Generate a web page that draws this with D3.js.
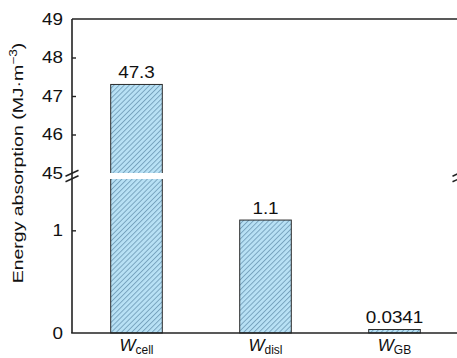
<!DOCTYPE html>
<html>
<head>
<meta charset="utf-8">
<script src="https://cdn.jsdelivr.net/npm/d3@7"></script>
<style>
  html, body { margin: 0; padding: 0; background: #fff; }
  svg { display: block; font-family: "Liberation Sans", Arial, sans-serif; }
</style>
</head>
<body>
<svg id="chart" width="457" height="358"></svg>
<script>
// Energy absorbed by each mechanism (MJ·m^-3)
const categories = ["cell", "disl", "GB"];
const values = [47.3, 1.1, 0.0341];
const valueLabels = ["47.3", "1.1", "0.0341"];
const upperTicks = [45, 46, 47, 48, 49];
const lowerTicks = [0, 1];
const upperDomain = [45, 49];
const lowerDomain = [0, 1.5];

const svg = d3.select("#chart");
const plotLeft = 72, plotRight = 459, plotTop = 19, plotBottom = 333;
const upperBottom = 173, lowerTop = 179;
const breakY = (upperBottom + lowerTop) / 2;
const stretch = 1.18; // wide lettering

const x = d3.scaleBand().domain(categories).range([plotLeft, plotRight])
  .paddingInner(0.6).paddingOuter(0.3);
const yTop = d3.scaleLinear().domain(upperDomain).range([upperBottom, plotTop]);
const yBot = d3.scaleLinear().domain(lowerDomain).range([plotBottom, lowerTop]);
const yOf = v => v > lowerDomain[1] ? yTop(v) : yBot(v);

// hatch fill
const defs = svg.append("defs");
const pat = defs.append("pattern").attr("id", "hatch")
  .attr("patternUnits", "userSpaceOnUse").attr("width", 3.6).attr("height", 3.6)
  .attr("patternTransform", "rotate(45)");
pat.append("rect").attr("width", 3.6).attr("height", 3.6).attr("fill", "#b8e1f5");
pat.append("line").attr("x1", 0.5).attr("y1", 0).attr("x2", 0.5).attr("y2", 3.6)
  .attr("stroke", "#6a97b5").attr("stroke-width", 0.8);

// bars
svg.append("g").selectAll("rect").data(values).join("rect")
  .attr("x", (d, i) => x(categories[i]))
  .attr("width", x.bandwidth())
  .attr("y", d => yOf(d))
  .attr("height", d => yBot(0) - yOf(d))
  .attr("fill", "url(#hatch)")
  .attr("stroke", "#2b2b2b").attr("stroke-width", 1);

// white gap across the axis break
svg.append("rect").attr("x", plotLeft + 1).attr("width", plotRight - plotLeft - 2)
  .attr("y", upperBottom).attr("height", lowerTop - upperBottom).attr("fill", "#fff");

// value labels
svg.append("g").selectAll("text").data(values).join("text")
  .attr("transform", (d, i) => `translate(${x(categories[i]) + x.bandwidth() / 2},${yOf(d) - 6.5}) scale(${stretch},1)`)
  .attr("text-anchor", "middle").attr("font-size", 16).attr("fill", "#111")
  .text((d, i) => valueLabels[i]);

// frame lines
const frame = svg.append("g").attr("stroke", "#222").attr("stroke-width", 1.6).attr("fill", "none");
frame.append("line").attr("x1", plotLeft).attr("x2", plotLeft).attr("y1", plotTop).attr("y2", plotBottom);
frame.append("line").attr("x1", plotLeft).attr("x2", plotRight).attr("y1", plotTop).attr("y2", plotTop);
frame.append("line").attr("x1", plotLeft - 0.8).attr("x2", plotRight).attr("y1", plotBottom).attr("y2", plotBottom);

// axes (ticks + labels)
function styleAxis(g) {
  g.select(".domain").remove();
  g.selectAll(".tick line").attr("stroke", "#222").attr("stroke-width", 1.4)
    .attr("display", d => (d === 45 || d === 49 || d === 0) ? "none" : null);
  g.selectAll(".tick text")
    .attr("x", -9 / stretch)
    .attr("transform", `scale(${stretch},1)`)
    .attr("font-size", 16).attr("fill", "#111")
    .attr("font-family", "Liberation Sans, Arial, sans-serif");
}
const fmt = d3.format("d");
svg.append("g").attr("transform", `translate(${plotLeft},0)`)
  .call(d3.axisLeft(yTop).tickValues(upperTicks).tickFormat(fmt)
    .tickSizeInner(-4).tickSizeOuter(0).tickPadding(9))
  .call(styleAxis);
svg.append("g").attr("transform", `translate(${plotLeft},0)`)
  .call(d3.axisLeft(yBot).tickValues(lowerTicks).tickFormat(fmt)
    .tickSizeInner(-4).tickSizeOuter(0).tickPadding(9))
  .call(styleAxis);

// break marks on both side axes
[plotLeft, plotRight].forEach(ax => {
  [-2.8, 2.8].forEach(off => {
    svg.append("line")
      .attr("x1", ax - 6.5).attr("y1", breakY + off + 3)
      .attr("x2", ax + 6.5).attr("y2", breakY + off - 3)
      .attr("stroke", "#222").attr("stroke-width", 1.5);
  });
});

// category labels: W with subscript
const xl = svg.append("g").selectAll("text").data(categories).join("text")
  .attr("x", d => x(d) + x.bandwidth() / 2).attr("y", 351)
  .attr("text-anchor", "middle").attr("fill", "#111");
xl.append("tspan").attr("font-style", "italic").attr("font-size", 17).text("W");
xl.append("tspan").attr("font-size", 12).attr("dy", 3).text(d => d);

// y title
const yt = svg.append("text")
  .attr("transform", `translate(23,163) rotate(-90) scale(1.3,1)`)
  .attr("text-anchor", "middle").attr("font-size", 15).attr("fill", "#111");
yt.append("tspan").text("Energy absorption (MJ·m");
yt.append("tspan").attr("font-size", 10.5).attr("dy", -6).text("−3");
yt.append("tspan").attr("dy", 6).text(")");
</script>
</body>
</html>
